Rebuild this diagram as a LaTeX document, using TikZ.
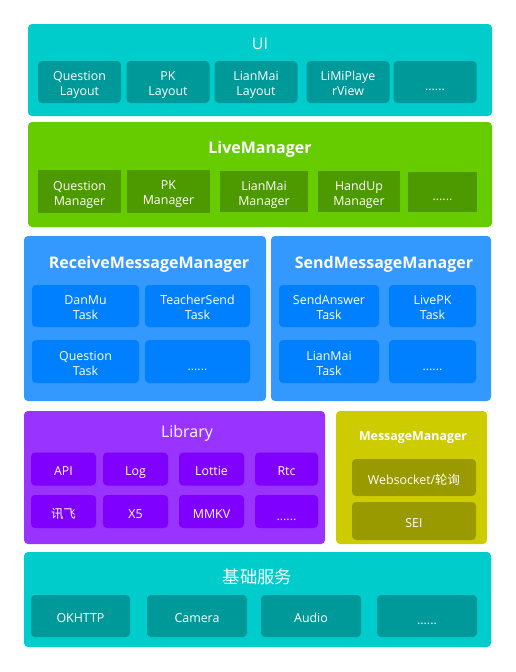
\documentclass[tikz,border=0pt]{standalone}
\usepackage{fontspec}
\setmainfont{Open Sans}
\newfontfamily\cjk{Noto Sans CJK SC}
\definecolor{cyanA}{HTML}{00CCCC}
\definecolor{cyanB}{HTML}{009999}
\definecolor{greenA}{HTML}{66CC00}
\definecolor{greenB}{HTML}{4D9900}
\definecolor{blueA}{HTML}{3399FF}
\definecolor{blueB}{HTML}{0080FF}
\definecolor{purpA}{HTML}{9933FF}
\definecolor{purpB}{HTML}{7F00FF}
\definecolor{oliveA}{HTML}{CCCC00}
\definecolor{oliveB}{HTML}{999900}
\newcommand\mydots{\raisebox{-1.5pt}{......}}
\begin{document}
\begin{tikzpicture}[x=0.75pt,y=-0.75pt,
  layer/.style={rounded corners=3pt,inner sep=0pt},
  sub/.style={rounded corners=3pt,inner sep=0pt,label={[lbl]center:#1}},
  sq/.style={sub=#1,rounded corners=0pt},
  lbl/.style={text=white,align=center,inner sep=0pt,yshift=-2.8pt,
    font=\fontsize{9.3}{11.25}\selectfont,
    execute at begin node=\strut,execute at end node=\strut},
  ttl/.style={text=white,inner sep=0pt,yshift=-0.8pt,font=\fontsize{12}{14}\selectfont},
  bttl/.style={ttl,font=\fontsize{12}{14}\selectfont\bfseries},
]
\useasboundingbox[fill=white] (0,0) rectangle (516,672);
% UI
\node[layer,fill=cyanA,minimum width=464*0.75pt,minimum height=92*0.75pt] (ui) at (260,70) {};
\node[ttl] (uit) at (260,43) {UI};
\node[sub={Question\\Layout},fill=cyanB,minimum width=83*0.75pt,minimum height=42*0.75pt] (ui1) at (79.5,82) {};
\node[sub={PK\\Layout},fill=cyanB,minimum width=83*0.75pt,minimum height=42*0.75pt] (ui2) at (168,82) {};
\node[sub={LianMai\\Layout},fill=cyanB,minimum width=83*0.75pt,minimum height=42*0.75pt] (ui3) at (256,82) {};
\node[sub={LiMiPlaye\\rView},fill=cyanB,minimum width=83*0.75pt,minimum height=42*0.75pt] (ui4) at (348,82) {};
\node[sub={\mydots},fill=cyanB,minimum width=83*0.75pt,minimum height=42*0.75pt] (ui5) at (435,82) {};
% LiveManager
\node[layer,fill=greenA,minimum width=464*0.75pt,minimum height=105*0.75pt] (lm) at (260,174.5) {};
\node[bttl] (lmt) at (260,148) {LiveManager};
\node[sq={Question\\Manager},fill=greenB,minimum width=83*0.75pt,minimum height=43*0.75pt] (lm1) at (79.5,191.5) {};
\node[sq={PK\\Manager},fill=greenB,minimum width=83*0.75pt,minimum height=43*0.75pt] (lm2) at (168.5,191.5) {};
\node[sq={LianMai\\Manager},fill=greenB,minimum width=88*0.75pt,minimum height=41*0.75pt] (lm3) at (264,191.5) {};
\node[sq={HandUp\\Manager},fill=greenB,minimum width=82*0.75pt,minimum height=41*0.75pt] (lm4) at (359,191.5) {};
\node[sq={\mydots},fill=greenB,minimum width=69*0.75pt,minimum height=40*0.75pt] (lm5) at (442.5,192) {};
% Receive
\node[layer,fill=blueA,minimum width=242*0.75pt,minimum height=165*0.75pt] (rm) at (145,318.5) {};
\node[bttl] (rmt) at (149,263) {ReceiveMessageManager};
\node[sub={DanMu\\Task},fill=blueB,minimum width=107*0.75pt,minimum height=42*0.75pt] (rm1) at (85.5,306) {};
\node[sub={TeacherSend\\Task},fill=blueB,minimum width=105*0.75pt,minimum height=42*0.75pt] (rm2) at (197.5,306) {};
\node[sub={Question\\Task},fill=blueB,minimum width=107*0.75pt,minimum height=43*0.75pt] (rm3) at (85.5,361.5) {};
\node[sub={\mydots},fill=blueB,minimum width=105*0.75pt,minimum height=43*0.75pt] (rm4) at (197.5,361.5) {};
% Send
\node[layer,fill=blueA,minimum width=220*0.75pt,minimum height=165*0.75pt] (sm) at (381,318.5) {};
\node[bttl] (smt) at (384,263) {SendMessageManager};
\node[sub={SendAnswer\\Task},fill=blueB,minimum width=100*0.75pt,minimum height=42*0.75pt] (sm1) at (329,306) {};
\node[sub={LivePK\\Task},fill=blueB,minimum width=87*0.75pt,minimum height=42*0.75pt] (sm2) at (432.5,306) {};
\node[sub={LianMai\\Task},fill=blueB,minimum width=100*0.75pt,minimum height=43*0.75pt] (sm3) at (329,361.5) {};
\node[sub={\mydots},fill=blueB,minimum width=87*0.75pt,minimum height=43*0.75pt] (sm4) at (432.5,361.5) {};
% Library
\node[layer,fill=purpA,minimum width=301*0.75pt,minimum height=133*0.75pt] (lib) at (174.5,477.5) {};
\node[ttl] (libt) at (187,432) {Library};
\node[sub={API},fill=purpB,minimum width=65*0.75pt,minimum height=33*0.75pt] (lb1) at (63.5,469) {};
\node[sub={Log},fill=purpB,minimum width=65*0.75pt,minimum height=33*0.75pt] (lb2) at (135.5,469) {};
\node[sub={Lottie},fill=purpB,minimum width=65*0.75pt,minimum height=33*0.75pt] (lb3) at (211.5,469) {};
\node[sub={Rtc},fill=purpB,minimum width=63*0.75pt,minimum height=33*0.75pt] (lb4) at (286.5,469) {};
\node[sub={\cjk 讯飞},fill=purpB,minimum width=65*0.75pt,minimum height=33*0.75pt] (lb5) at (63.5,511.5) {};
\node[sub={X5},fill=purpB,minimum width=65*0.75pt,minimum height=33*0.75pt] (lb6) at (135.5,511.5) {};
\node[sub={MMKV},fill=purpB,minimum width=65*0.75pt,minimum height=33*0.75pt] (lb7) at (211.5,511.5) {};
\node[sub={\mydots},fill=purpB,minimum width=63*0.75pt,minimum height=33*0.75pt] (lb8) at (286.5,511.5) {};
% MessageManager
\node[layer,fill=oliveA,minimum width=151*0.75pt,minimum height=133*0.75pt] (mm) at (411.5,477.5) {};
\node[ttl,font=\fontsize{9.3}{11}\selectfont\bfseries] (mmt) at (413,436) {MessageManager};
\node[sub={Websocket/{\cjk 轮询}},fill=oliveB,minimum width=124*0.75pt,minimum height=37*0.75pt] (mm1) at (414,477.5) {};
\node[sub={SEI},fill=oliveB,minimum width=124*0.75pt,minimum height=38*0.75pt] (mm2) at (414,521) {};
% Base
\node[layer,fill=cyanA,minimum width=467*0.75pt,minimum height=95*0.75pt] (bs) at (257.5,599.5) {};
\node[ttl,font=\fontsize{13}{15}\cjk] (bst) at (257.5,576) {基础服务};
\node[sub={OKHTTP},fill=cyanB,minimum width=99*0.75pt,minimum height=42*0.75pt] (bs1) at (80.5,616) {};
\node[sub={Camera},fill=cyanB,minimum width=100*0.75pt,minimum height=42*0.75pt] (bs2) at (197,616) {};
\node[sub={Audio},fill=cyanB,minimum width=100*0.75pt,minimum height=42*0.75pt] (bs3) at (311,616) {};
\node[sub={\mydots},fill=cyanB,minimum width=100*0.75pt,minimum height=42*0.75pt] (bs4) at (427,616) {};
\end{tikzpicture}
\end{document}
